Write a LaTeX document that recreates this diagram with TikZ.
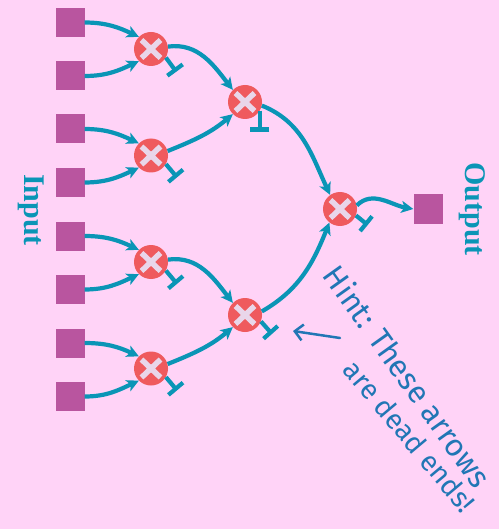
\documentclass[tikz,border=0pt]{standalone}
\usepackage{fontspec}
\usetikzlibrary{arrows.meta}
\newfontfamily\labfont{Liberation Serif}
\newfontfamily\hintfont{Fira Sans}
\definecolor{bgpink}{HTML}{FFD3F7}
\definecolor{sqcol}{HTML}{B9559F}
\definecolor{circcol}{HTML}{EF5A5E}
\definecolor{xcol}{HTML}{E9D6EA}
\definecolor{flowcol}{HTML}{0A95B6}
\definecolor{hintcol}{HTML}{2176B5}
\begin{document}
\begin{tikzpicture}[x=1pt,y=1pt,
  sq/.style={fill=sqcol, minimum size=29pt, inner sep=0pt},
  mul/.style={circle, fill=circcol, minimum size=34pt, inner sep=0pt,
    path picture={\draw[xcol, line width=5.5pt]
      ([shift={(-9.5pt,-9pt)}]path picture bounding box.center) -- ([shift={(9.5pt,9pt)}]path picture bounding box.center)
      ([shift={(-9.5pt,9pt)}]path picture bounding box.center) -- ([shift={(9.5pt,-9pt)}]path picture bounding box.center);}},
  flow/.style={draw=flowcol, line width=4.2pt, -{Stealth[length=12pt,width=12pt,inset=3pt]}},
  dead/.style={draw=flowcol, line width=4.2pt, -{Bar[width=19pt]}},
  lab/.style={text=flowcol, font=\labfont\bfseries\fontsize{30}{30}\selectfont, inner sep=0pt},
  hint/.style={text=hintcol, inner sep=0pt}]
\fill[bgpink] (0,0) rectangle (499,-529);
\useasboundingbox (0,0) rectangle (499,-529);
% inputs
\node[sq] (s1) at (70,-22.5) {};
\node[sq] (s2) at (70,-76) {};
\node[sq] (s3) at (70,-129) {};
\node[sq] (s4) at (70,-182.5) {};
\node[sq] (s5) at (70,-236) {};
\node[sq] (s6) at (70,-289.5) {};
\node[sq] (s7) at (70,-343) {};
\node[sq] (s8) at (70,-396.5) {};
% multipliers
\node[mul] (c1) at (151,-49) {};
\node[mul] (c2) at (151,-155.5) {};
\node[mul] (c3) at (151,-262) {};
\node[mul] (c4) at (151,-368.5) {};
\node[mul] (c5) at (245,-102) {};
\node[mul] (c6) at (245,-315) {};
\node[mul] (c7) at (340,-209) {};
\node[sq] (outsq) at (428,-209) {};
% labels
\node[lab, rotate=-90] (inp) at (31,-210) {Input};
\node[lab, rotate=-90] (outp) at (472,-209) {Output};
% inputs to level 1
\foreach \s/\t in {s1/c1,s3/c2,s5/c3,s7/c4}
  \draw[flow] (\s.east) to[out=0,in=155] (\t.135);
\foreach \s/\t in {s2/c1,s4/c2,s6/c3,s8/c4}
  \draw[flow] (\s.east) to[out=0,in=-155] (\t.-135);
% level 1 to level 2
\draw[flow] (c1.8) to[out=8,in=128] (c5.135);
\draw[flow] (c2.15) to[out=22,in=-140] (c5.-135);
\draw[flow] (c3.8) to[out=8,in=128] (c6.135);
\draw[flow] (c4.15) to[out=22,in=-140] (c6.-135);
% level 2 to level 3
\draw[flow] (c5.-12) to[out=-22,in=115] (c7.125);
\draw[flow] (c6.12) to[out=30,in=-112] (c7.-128);
% level 3 to output
\draw[flow] (c7.12) to[out=45,in=170] (outsq.west);
% dead ends
\path (c1) ++(-42:34pt) coordinate (dc1);
\path (c2) ++(-40:34pt) coordinate (dc2);
\path (c3) ++(-40:34pt) coordinate (dc3);
\path (c4) ++(-40:34pt) coordinate (dc4);
\path (c5.-30) ++(0,-21pt) coordinate (dc5);
\path (c6) ++(-35:33pt) coordinate (dc6);
\path (c7) ++(-30:32pt) coordinate (dc7);
\draw[dead] (c1.-30) -- (dc1);
\draw[dead] (c2.-30) -- (dc2);
\draw[dead] (c3.-30) -- (dc3);
\draw[dead] (c4.-30) -- (dc4);
\draw[dead] (c5.-30) -- (dc5);
\draw[dead] (c6.-22) -- (dc6);
\draw[dead] (c7.-22) -- (dc7);
% hint
\node[hint, rotate=-54.5, font=\hintfont\fontsize{31}{31}\selectfont] (h1) at (408,-376) {Hint: These arrows};
\node[hint, rotate=-50, font=\hintfont\fontsize{28}{28}\selectfont] (h2) at (410,-436) {are dead ends!};
\coordinate (ha) at (340,-338);
\coordinate (hb) at (293,-331);
\draw[hintcol, line width=2.5pt, line cap=round, -{Straight Barb[length=8pt,width=16pt]}] (ha) -- (hb);
\end{tikzpicture}
\end{document}
